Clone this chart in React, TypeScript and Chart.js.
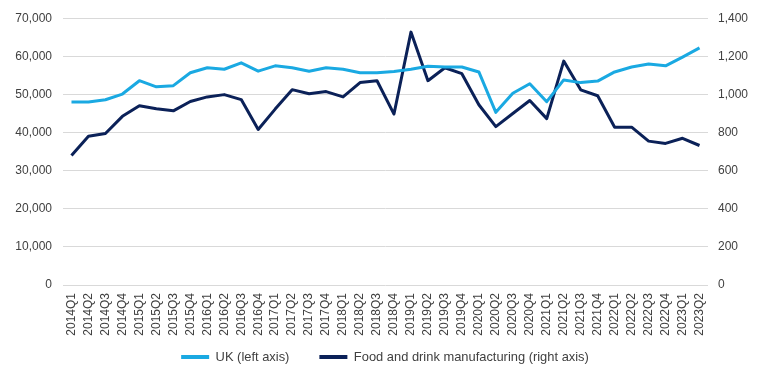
import React, { useEffect, useRef } from "react";
import { Chart, registerables } from "chart.js";
Chart.register(...registerables);

const quarters = [
  "2014Q1","2014Q2","2014Q3","2014Q4",
  "2015Q1","2015Q2","2015Q3","2015Q4",
  "2016Q1","2016Q2","2016Q3","2016Q4",
  "2017Q1","2017Q2","2017Q3","2017Q4",
  "2018Q1","2018Q2","2018Q3","2018Q4",
  "2019Q1","2019Q2","2019Q3","2019Q4",
  "2020Q1","2020Q2","2020Q3","2020Q4",
  "2021Q1","2021Q2","2021Q3","2021Q4",
  "2022Q1","2022Q2","2022Q3","2022Q4",
  "2023Q1","2023Q2",
];

const ukValues = [
  48000, 48000, 48600, 50100,
  53600, 52000, 52300, 55700,
  57000, 56600, 58300, 56100,
  57500, 57000, 56100, 57000,
  56600, 55700, 55700, 56000,
  56600, 57400, 57200, 57200,
  55900, 45300, 50300, 52800,
  48100, 53800, 53100, 53500,
  55900, 57200, 58000, 57500,
  59800, 62200,
];

const foodValues = [
  680, 781, 795, 885,
  941, 925, 914, 963,
  987, 999, 973, 816,
  923, 1025, 1004, 1015,
  987, 1062, 1072, 897,
  1327, 1072, 1140, 1109,
  946, 831, 900, 968,
  873, 1175, 1024, 993,
  828, 828, 755, 743,
  770, 732,
];

const seriesNames = ["UK (left axis)", "Food and drink manufacturing (right axis)"];
const leftAxis = { min: 0, max: 70000, step: 10000 };
const rightAxis = { min: 0, max: 1400, step: 200 };

const UK_COLOR = "#1AA9E2";
const FOOD_COLOR = "#0B2158";
const GRID = "#D9D9D9";
const TEXT = "#404040";
const FONT = "'Liberation Sans', Arial, sans-serif";
const LEGEND_PAD = 30;
const LEGEND_FONT = 12.9;
const LEGEND_CENTER_Y = 357;

const legendPlacement = {
  id: "legendPlacement",
  beforeLayout(chart: any) {
    const lg = chart.legend;
    if (lg && !lg._patched) {
      const orig = lg.fit.bind(lg);
      lg.fit = () => {
        orig();
        lg.height = 45;
      };
      lg._patched = true;
    }
  },
  afterLayout(chart: any) {
    const lg = chart.legend;
    if (!lg) return;
    const h = lg.height;
    lg.top = LEGEND_CENTER_Y - LEGEND_PAD - LEGEND_FONT / 2;
    lg.bottom = lg.top + h;
  },
};

export default function App() {
  const ref = useRef<HTMLCanvasElement | null>(null);

  useEffect(() => {
    if (!ref.current) return;
    const chart = new Chart(ref.current, {
      type: "line",
      data: {
        labels: quarters,
        datasets: [
          {
            label: seriesNames[0],
            data: ukValues,
            borderColor: UK_COLOR,
            backgroundColor: UK_COLOR,
            borderWidth: 3,
            pointRadius: 0,
            borderJoinStyle: "round",
            tension: 0,
            yAxisID: "y",
          },
          {
            label: seriesNames[1],
            data: foodValues,
            borderColor: FOOD_COLOR,
            backgroundColor: FOOD_COLOR,
            borderWidth: 3,
            pointRadius: 0,
            borderJoinStyle: "round",
            tension: 0,
            yAxisID: "y1",
          },
        ],
      },
      plugins: [legendPlacement],
      options: {
        animation: false,
        responsive: false,
        maintainAspectRatio: false,
        layout: { padding: { top: 14, bottom: 0, left: 0, right: 0 } },
        plugins: {
          tooltip: { enabled: false },
          legend: {
            position: "bottom",
            labels: {
              boxWidth: 28,
              boxHeight: 4,
              padding: LEGEND_PAD,
              color: TEXT,
              font: { family: FONT, size: LEGEND_FONT },
              generateLabels: (c: any) =>
                Chart.defaults.plugins.legend.labels
                  .generateLabels(c)
                  .map((l: any) => ({ ...l, lineWidth: 0 })),
            },
          },
        },
        scales: {
          x: {
            offset: true,
            grid: { display: false, drawTicks: false },
            border: { display: false },
            ticks: {
              autoSkip: false,
              maxRotation: 90,
              minRotation: 90,
              padding: 8,
              color: TEXT,
              font: { family: FONT, size: 12 },
            },
            afterFit: (s: any) => {
              s.height = 55;
            },
          },
          y: {
            position: "left",
            min: leftAxis.min,
            max: leftAxis.max,
            grid: { color: GRID, drawTicks: false, lineWidth: 1 },
            border: { display: false },
            ticks: {
              stepSize: leftAxis.step,
              padding: 11,
              color: TEXT,
              font: { family: FONT, size: 12 },
              callback: (v: any) => Number(v).toLocaleString("en-US"),
            },
            afterFit: (s: any) => {
              s.width = 63;
            },
          },
          y1: {
            position: "right",
            min: rightAxis.min,
            max: rightAxis.max,
            grid: { display: false, drawTicks: false },
            border: { display: false },
            ticks: {
              stepSize: rightAxis.step,
              padding: 10,
              color: TEXT,
              font: { family: FONT, size: 12 },
              callback: (v: any) => Number(v).toLocaleString("en-US"),
            },
            afterFit: (s: any) => {
              s.width = 62;
            },
          },
        },
      },
    });
    return () => chart.destroy();
  }, []);

  return (
    <div style={{ position: "fixed", left: 0, top: 0, width: 770, height: 385, background: "#fff" }}>
      <canvas ref={ref} width={770} height={385} style={{ width: 770, height: 385 }} />
    </div>
  );
}
